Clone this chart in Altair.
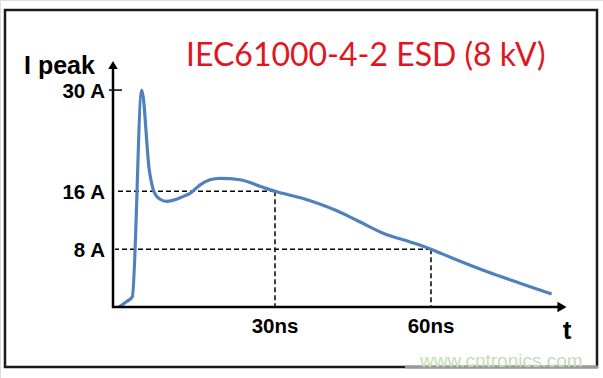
import altair as alt
import pandas as pd

# ---- data ----
t_ns = [0, 1.35, 2.56, 4.37, 5.83, 6.6, 7.25, 7.9, 9.17, 12.4, 13.65, 15.6, 17.5,
        19.4, 23.3, 27.1, 30, 35.4, 41.9, 45.7, 50.8, 56.0, 60, 64.3, 70.7, 77.1, 83.2]
i_a = [0, 0.7, 1.4, 30, 18.9, 16.2, 15.3, 14.9, 14.6, 15.3, 15.7, 16.9, 17.6,
       17.8, 17.6, 16.7, 16, 15.0, 13.3, 12.0, 10.2, 9.0, 8, 6.7, 4.9, 3.3, 1.8]

y_tick_values = [30, 16, 8]
y_tick_labels = ["30 A", "16 A", "8 A"]
x_tick_values = [30, 60]
x_tick_labels = ["30ns", "60ns"]
marker_times = [30, 60]
marker_levels = [16, 8]

title_text = "IEC61000-4-2 ESD (8 kV)"
y_title = "I peak"
x_title = "t"
watermark = "www.cntronics.com"

W, H = 603, 378
# scale domains chosen so the plot fits the canvas (layout)
xs = alt.Scale(domain=[-22.885, 93.08], nice=False, zero=False)
ys = alt.Scale(domain=[-9.82, 42.46], nice=False, zero=False)

curve = pd.DataFrame({"t": t_ns, "i": i_a})
ticks = pd.DataFrame({"v": y_tick_values, "lab": y_tick_labels})
xt = pd.DataFrame({"v": x_tick_values, "lab": x_tick_labels})
marks = pd.DataFrame({"t": marker_times, "i": marker_levels})
one = pd.DataFrame({"a": [0]})

border = alt.Chart(one).mark_rect(fill="white", stroke="#1a1a1a", strokeWidth=2.5).encode(
    x=alt.value(5), x2=alt.value(597), y=alt.value(10), y2=alt.value(367))

border_fade = alt.Chart(one).mark_rule(color="#9a9a9a", strokeWidth=3).encode(
    x=alt.value(405), x2=alt.value(598), y=alt.value(367))

line = alt.Chart(curve).mark_line(color="#4f81bd", strokeWidth=3.2, interpolate="monotone").encode(
    x=alt.X("t:Q", scale=xs, axis=None),
    y=alt.Y("i:Q", scale=ys, axis=None))

hdash = alt.Chart(marks).mark_rule(color="black", strokeWidth=1.5, strokeDash=[5, 3]).encode(
    x=alt.X("t:Q", scale=xs, axis=None), x2=alt.value(115), y=alt.Y("i:Q", scale=ys, axis=None))
vdash = alt.Chart(marks).mark_rule(color="black", strokeWidth=1.5, strokeDash=[5, 3]).encode(
    x=alt.X("t:Q", scale=xs, axis=None), y=alt.Y("i:Q", scale=ys, axis=None), y2=alt.value(307))

yaxis = alt.Chart(one).mark_rule(color="black", strokeWidth=2.5).encode(
    x=alt.value(113), y=alt.value(66), y2=alt.value(308))
xaxis = alt.Chart(one).mark_rule(color="black", strokeWidth=2.5).encode(
    x=alt.value(112), x2=alt.value(561), y=alt.value(307))
yarrow = alt.Chart(one).mark_point(shape="triangle-up", filled=True, color="black", size=90, opacity=1).encode(
    x=alt.value(113), y=alt.value(65))
xarrow = alt.Chart(one).mark_point(shape="triangle-right", filled=True, color="black", size=110, opacity=1).encode(
    x=alt.value(562), y=alt.value(307))

top_tick = alt.Chart(ticks[ticks["v"] == max(y_tick_values)]).mark_rule(color="black", strokeWidth=1.5).encode(
    x=alt.value(109), x2=alt.value(122), y=alt.Y("v:Q", scale=ys, axis=None))

ylabels = alt.Chart(ticks).mark_text(align="right", baseline="middle", font="Liberation Sans",
                                     fontWeight="bold", fontSize=20.5, dy=2, color="black").encode(
    x=alt.value(105), y=alt.Y("v:Q", scale=ys, axis=None), text="lab:N")
xlabels = alt.Chart(xt).mark_text(align="center", baseline="alphabetic", font="Liberation Sans",
                                  fontWeight="bold", fontSize=20.5, color="black").encode(
    x=alt.X("v:Q", scale=xs, axis=None), y=alt.value(333), text="lab:N")

def txt(s, x, y, **kw):
    return alt.Chart(pd.DataFrame({"s": [s]})).mark_text(**kw).encode(
        x=alt.value(x), y=alt.value(y), text="s:N")

ytitle = txt(y_title, 24, 74, align="left", baseline="alphabetic", font="Liberation Sans",
             fontWeight="bold", fontSize=25, color="black")
xtitle = txt(x_title, 567, 339, align="center", baseline="alphabetic", font="Liberation Sans",
             fontWeight="bold", fontSize=26, color="black")
title = txt(title_text, 186, 66, align="left", baseline="alphabetic", font="Lato",
            fontSize=32, color="#e0161e")
wm = txt(watermark, 420, 367, align="left", baseline="alphabetic", font="Liberation Sans",
         fontSize=19, color="#c2ddb6")

chart = alt.layer(border, border_fade, hdash, vdash, line, yaxis, xaxis, yarrow, xarrow,
                  top_tick, ylabels, xlabels, ytitle, xtitle, title, wm).properties(
    width=W, height=H, padding=0, autosize=alt.AutoSizeParams(type="none")
).configure_view(stroke=None).configure(background="white")

chart.save("out.html", embed_options={"renderer": "svg", "actions": False})
